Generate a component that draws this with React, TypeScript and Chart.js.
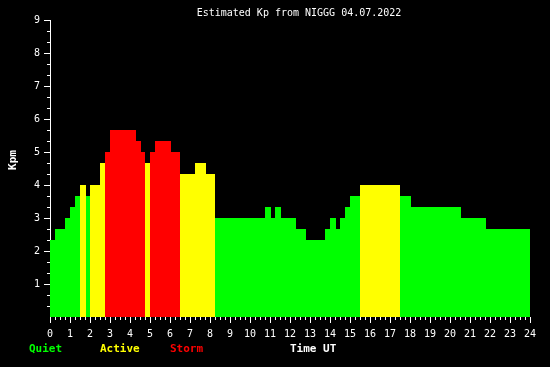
import React, { useEffect, useRef } from 'react';
import { Chart, registerables } from 'chart.js';

Chart.register(...registerables);

// Start time (UT hours) of each constant-Kp interval; each lasts until the next start.
const segmentStartHours = [
  0, 0.25, 0.75, 1.0, 1.25, 1.5, 1.8, 2.0, 2.5, 2.75,
  3.0, 4.3, 4.55, 4.75, 5.0, 5.25, 6.05, 6.5, 7.25, 7.8,
  8.25, 10.75, 11.05, 11.25, 11.55, 12.3, 12.8, 13.75, 14.0, 14.3,
  14.5, 14.75, 15.0, 15.5, 17.5, 18.05, 20.55, 21.8,
];
const kpValues = [
  2.333, 2.667, 3.0, 3.333, 3.667, 4.0, 3.667, 4.0, 4.667, 5.0,
  5.667, 5.333, 5.0, 4.667, 5.0, 5.333, 5.0, 4.333, 4.667, 4.333,
  3.0, 3.333, 3.0, 3.333, 3.0, 2.667, 2.333, 2.667, 3.0, 2.667,
  3.0, 3.333, 3.667, 4.0, 3.667, 3.333, 3.0, 2.667,
];
const dayEndHour = 24;

const titleText = 'Estimated Kp from NIGGG 04.07.2022';
const yAxisTitle = 'Kpm';
const xAxisTitle = 'Time UT';
const legendLabels = ['Quiet', 'Active', 'Storm'];
const legendColors = ['#00ff00', '#ffff00', '#ff0000'];

const MONO = '"DejaVu Sans Mono", "Liberation Mono", monospace';

function colorFor(v: number): string {
  if (v >= 5) return legendColors[2];
  if (v >= 4) return legendColors[1];
  return legendColors[0];
}

const textPlugin = {
  id: 'kpTexts',
  beforeDraw(chart: any) {
    const ctx = chart.ctx;
    ctx.save();
    ctx.fillStyle = '#000000';
    ctx.fillRect(0, 0, chart.width, chart.height);
    ctx.restore();
  },
  afterDraw(chart: any) {
    const ctx = chart.ctx;
    ctx.save();
    ctx.textBaseline = 'middle';
    ctx.textAlign = 'center';
    ctx.fillStyle = '#ffffff';
    ctx.font = `10px ${MONO}`;
    ctx.fillText(titleText, 299, 13);

    ctx.font = `bold 11px ${MONO}`;
    ctx.save();
    ctx.translate(13, 160);
    ctx.rotate(-Math.PI / 2);
    ctx.fillText(yAxisTitle, 0, 0);
    ctx.restore();

    ctx.textAlign = 'left';
    const legendX = [29, 100, 170];
    legendLabels.forEach((lbl, i) => {
      ctx.fillStyle = legendColors[i];
      ctx.fillText(lbl, legendX[i], 349);
    });
    ctx.fillStyle = '#ffffff';
    ctx.fillText(xAxisTitle, 290, 349);
    ctx.restore();
  },
};

export default function App() {
  const canvasRef = useRef<HTMLCanvasElement | null>(null);

  useEffect(() => {
    if (!canvasRef.current) return;
    const datasets = kpValues.map((v, i) => {
      const start = segmentStartHours[i];
      const end = i + 1 < segmentStartHours.length ? segmentStartHours[i + 1] : dayEndHour;
      return {
        data: [
          { x: start, y: v },
          { x: end, y: v },
        ],
        xAxisID: 'x',
        yAxisID: 'y',
        fill: 'origin',
        backgroundColor: colorFor(v),
        borderColor: 'rgba(0,0,0,0)',
        borderWidth: 0,
        pointRadius: 0,
        pointHoverRadius: 0,
        tension: 0,
      };
    });

    const tickFont = { family: MONO, size: 10 };

    const chart = new Chart(canvasRef.current, {
      type: 'line',
      data: { datasets: datasets as any },
      plugins: [textPlugin],
      options: {
        animation: false,
        responsive: false,
        events: [],
        layout: { padding: { top: 20, right: 20, bottom: 0, left: 0 } },
        plugins: {
          legend: { display: false },
          title: { display: false },
          tooltip: { enabled: false },
        },
        scales: {
          x: {
            type: 'linear',
            position: 'bottom',
            weight: 1,
            min: 0,
            max: 24,
            afterFit: (s: any) => { s.height = 50; },
            ticks: {
              stepSize: 1,
              autoSkip: false,
              maxRotation: 0,
              minRotation: 0,
              color: '#ffffff',
              font: tickFont,
              padding: 5,
              callback: (v: any) => String(v),
            },
            grid: {
              display: true,
              drawOnChartArea: false,
              drawTicks: true,
              tickLength: 6,
              tickColor: '#ffffff',
              color: '#ffffff',
            },
            border: { display: false },
          },
          x2: {
            type: 'linear',
            position: 'bottom',
            weight: 0,
            min: 0,
            max: 24,
            afterFit: (s: any) => { s.height = 0; },
            ticks: {
              stepSize: 0.25,
              autoSkip: false,
              maxTicksLimit: 1000,
              display: false,
              callback: () => '',
            },
            grid: {
              display: true,
              drawOnChartArea: false,
              drawTicks: true,
              tickLength: 3,
              tickColor: '#ffffff',
              color: '#ffffff',
            },
            border: { display: false },
          },
          y: {
            type: 'linear',
            position: 'left',
            weight: 1,
            min: 0,
            max: 9,
            afterFit: (s: any) => { s.width = 50; },
            ticks: {
              stepSize: 1,
              autoSkip: false,
              color: '#ffffff',
              font: tickFont,
              padding: 4,
              callback: (v: any) => (v === 0 ? '' : String(v)),
            },
            grid: {
              display: true,
              drawOnChartArea: false,
              drawTicks: true,
              tickLength: 6,
              tickColor: (c: any) => (c.tick && c.tick.value === 0 ? 'rgba(0,0,0,0)' : '#ffffff'),
              color: '#ffffff',
            },
            border: { display: true, color: '#ffffff', width: 1 },
          },
          y2: {
            type: 'linear',
            position: 'left',
            weight: 0,
            min: 0,
            max: 9,
            afterFit: (s: any) => { s.width = 0; },
            ticks: {
              stepSize: 1 / 3,
              autoSkip: false,
              maxTicksLimit: 1000,
              display: false,
              callback: () => '',
            },
            grid: {
              display: true,
              drawOnChartArea: false,
              drawTicks: true,
              tickLength: 3,
              tickColor: (c: any) => (c.tick && Math.abs(c.tick.value) < 1e-6 ? 'rgba(0,0,0,0)' : '#ffffff'),
              color: '#ffffff',
            },
            border: { display: false },
          },
        },
      } as any,
    });
    return () => chart.destroy();
  }, []);

  return (
    <div style={{ position: 'fixed', left: 0, top: 0, width: 550, height: 367, background: '#000' }}>
      <canvas ref={canvasRef} width={550} height={367} style={{ display: 'block' }} />
    </div>
  );
}
